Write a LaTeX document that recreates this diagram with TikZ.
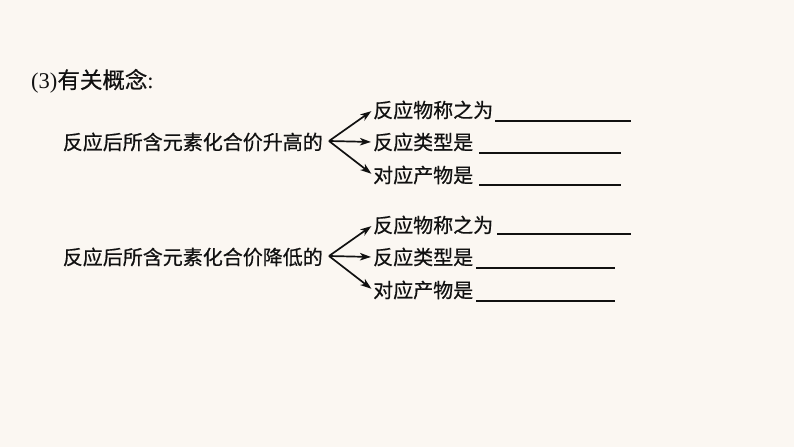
\documentclass[tikz,border=0pt]{standalone}
\usepackage{fontspec}
\setmainfont{Liberation Serif}
\newfontfamily\cjk[FakeBold=0.6]{Noto Sans CJK SC}
\newfontfamily\ttl{Liberation Serif}
\usetikzlibrary{arrows.meta}
\definecolor{bgc}{HTML}{FBF7F2}
\definecolor{ink}{HTML}{111111}
\tikzset{
  txt/.style={inner sep=0pt, text=ink, font=\cjk\fontsize{20}{24}\selectfont},
  arr/.style={line width=1.7pt, draw=ink, -{Stealth[length=11pt,width=7.5pt,inset=3pt]}, shorten >=2pt},
  blank/.style={line width=1.6pt, draw=ink}
}
\begin{document}
\begin{tikzpicture}[x=1pt,y=-1pt]
\fill[bgc] (0,0) rectangle (794,447);
\useasboundingbox (0,0) rectangle (794,447);
% title
\node[txt, anchor=west, font=\fontsize{22.5}{26}\selectfont] (title) at (31,81) {\ttl(3)\cjk 有关概念\ttl:};
% group 1
\node[txt, anchor=east] (up) at (323,142) {反应后所含元素化合价升高的};
\coordinate (o1) at (329,141);
\node[txt, anchor=west] (a1) at (373,110) {反应物称之为};
\node[txt, anchor=west] (b1) at (373,142) {反应类型是};
\node[txt, anchor=west] (c1) at (373,175) {对应产物是};
\draw[arr] (o1) -- (a1.west);
\draw[arr] (o1) -- (b1.west);
\draw[arr] (o1) -- (c1.west);
\draw[blank] (495,121) -- (631,121);
\draw[blank] (479,153) -- (621,153);
\draw[blank] (479,185) -- (621,185);
% group 2
\node[txt, anchor=east] (down) at (323,257) {反应后所含元素化合价降低的};
\coordinate (o2) at (329,256);
\node[txt, anchor=west] (a2) at (373,225) {反应物称之为};
\node[txt, anchor=west] (b2) at (373,257) {反应类型是};
\node[txt, anchor=west] (c2) at (373,290) {对应产物是};
\draw[arr] (o2) -- (a2.west);
\draw[arr] (o2) -- (b2.west);
\draw[arr] (o2) -- (c2.west);
\draw[blank] (497,234) -- (631,234);
\draw[blank] (476,268) -- (615,268);
\draw[blank] (476,301) -- (615,301);
\end{tikzpicture}
\end{document}
